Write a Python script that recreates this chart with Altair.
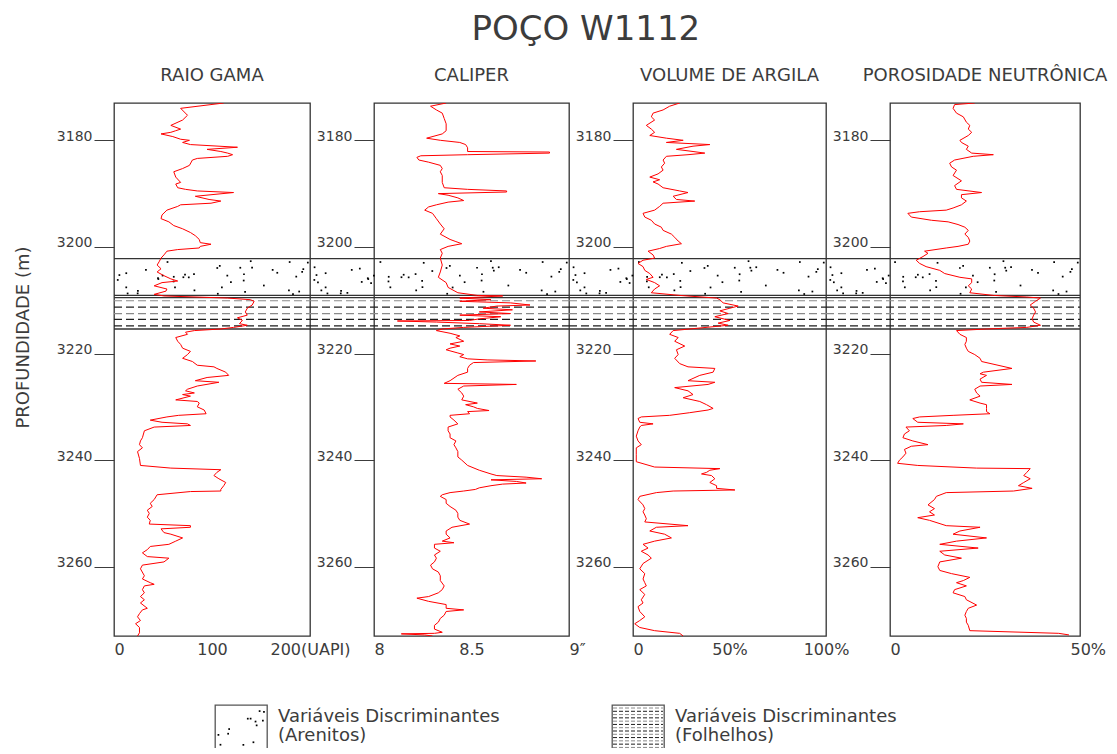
import altair as alt
import pandas as pd

FONT = "DejaVu Sans"
INK = "#3c3c3c"

# ---------------- data (depth in m, log value) ----------------
DEPTH_DOMAIN = [3173, 3273]
DEPTH_TICKS = [3180, 3200, 3220, 3240, 3260]

# interval limits
BAND_EDGES = [3202.2, 3209.1, 3209.5, 3215.4]
SAND_RANGE = [3202.4, 3208.9]
SHALE_LINES = [3210.1, 3211.3, 3212.5, 3213.6, 3214.8]
SHALE_TONES = ["light", "dark", "light", "dark", "dark"]

RAIO_GAMA = [
    (3173.0, 112), (3174.0, 68), (3175.3, 75), (3176.2, 70), (3177.2, 58), (3177.9, 68), (3178.2, 63),
    (3178.5, 58), (3178.8, 48), (3179.3, 60), (3179.8, 68), (3180.0, 77), (3180.4, 70), (3180.8, 78),
    (3181.3, 126), (3181.7, 95), (3182.1, 109), (3182.4, 116), (3182.7, 121), (3183.0, 116), (3183.4, 85),
    (3183.7, 80), (3184.7, 77), (3185.3, 70), (3185.9, 61), (3186.9, 63), (3187.9, 68), (3188.2, 63),
    (3188.9, 65), (3189.2, 73), (3189.5, 85), (3189.8, 122), (3190.5, 83), (3191.1, 97), (3191.4, 109),
    (3191.8, 99), (3192.1, 68), (3192.4, 65), (3193.1, 54), (3194.0, 49), (3194.7, 48), (3195.3, 56),
    (3196.0, 61), (3196.6, 70), (3197.3, 78), (3197.9, 83), (3198.6, 87), (3199.2, 88), (3199.5, 99),
    (3199.9, 88), (3200.2, 87), (3200.5, 65), (3200.8, 54), (3201.5, 51), (3202.1, 48), (3202.8, 46),
    (3203.4, 44), (3204.1, 48), (3204.7, 44), (3205.4, 51), (3206.0, 58), (3206.4, 65), (3206.7, 49),
    (3207.3, 41), (3207.9, 54), (3208.3, 53), (3208.9, 41), (3209.2, 51), (3209.6, 116), (3209.9, 139),
    (3210.2, 143), (3210.9, 141), (3211.5, 136), (3212.2, 134), (3212.8, 136), (3213.3, 126), (3213.8, 131),
    (3214.4, 128), (3214.7, 136), (3215.1, 122), (3215.4, 109), (3215.7, 82), (3216.0, 73), (3216.4, 75),
    (3217.0, 63), (3217.7, 65), (3218.3, 68), (3219.0, 70), (3219.6, 78), (3220.2, 75), (3220.9, 70),
    (3221.5, 80), (3222.2, 85), (3222.5, 102), (3222.8, 105), (3223.5, 114), (3224.1, 117), (3224.5, 95),
    (3225.1, 83), (3225.4, 107), (3226.1, 85), (3226.7, 75), (3227.0, 73), (3227.4, 82), (3227.7, 70),
    (3228.0, 78), (3228.7, 63), (3229.0, 85), (3229.3, 87), (3230.0, 85), (3230.6, 92), (3231.3, 94),
    (3231.6, 66), (3231.9, 54), (3232.5, 37), (3232.9, 49), (3233.2, 75), (3233.5, 78), (3233.8, 41),
    (3234.5, 31), (3235.8, 29), (3236.4, 27), (3237.1, 26), (3237.7, 29), (3238.4, 24), (3239.7, 26),
    (3241.0, 27), (3241.5, 58), (3241.8, 109), (3242.3, 105), (3242.9, 102), (3243.5, 107), (3244.2, 114),
    (3244.8, 112), (3245.5, 109), (3245.8, 109), (3245.9, 78), (3246.5, 44), (3247.4, 41), (3248.1, 37),
    (3248.7, 39), (3249.4, 34), (3250.0, 36), (3250.7, 34), (3251.3, 37), (3252.0, 36), (3252.3, 78),
    (3252.6, 78), (3252.9, 48), (3253.6, 51), (3253.9, 58), (3254.6, 70), (3255.2, 63), (3255.8, 56),
    (3256.2, 37), (3256.8, 34), (3257.4, 29), (3258.1, 34), (3258.4, 56), (3259.1, 51), (3259.7, 29),
    (3260.4, 27), (3261.7, 31), (3262.3, 29), (3263.0, 37), (3263.3, 41), (3263.6, 31), (3264.3, 29),
    (3264.9, 31), (3265.6, 27), (3266.2, 31), (3266.8, 27), (3267.8, 34), (3268.1, 29), (3268.8, 26),
    (3269.4, 24), (3270.1, 27), (3270.7, 22), (3271.4, 26), (3272.4, 26), (3273.0, 24),
]

CALIPER = [
    (3173.0, 8.37), (3173.6, 8.29), (3174.3, 8.32), (3174.9, 8.35), (3175.9, 8.36), (3176.9, 8.37),
    (3178.2, 8.37), (3178.8, 8.35), (3179.6, 8.27), (3180.0, 8.34), (3180.4, 8.44), (3180.8, 8.47),
    (3181.4, 8.48), (3182.1, 8.48), (3182.2, 8.90), (3182.4, 8.90), (3182.7, 8.48), (3182.9, 8.24),
    (3183.2, 8.22), (3183.7, 8.23), (3184.1, 8.28), (3184.7, 8.34), (3185.3, 8.35), (3185.9, 8.34),
    (3186.6, 8.35), (3187.9, 8.35), (3188.9, 8.36), (3189.2, 8.48), (3189.5, 8.68), (3189.7, 8.68),
    (3190.0, 8.33), (3190.3, 8.38), (3190.8, 8.43), (3191.3, 8.46), (3191.6, 8.38), (3192.1, 8.32),
    (3192.5, 8.28), (3193.1, 8.26), (3193.7, 8.30), (3194.7, 8.32), (3195.7, 8.34), (3196.6, 8.36),
    (3197.6, 8.34), (3198.6, 8.39), (3199.0, 8.42), (3199.4, 8.45), (3199.9, 8.38), (3200.5, 8.34),
    (3201.2, 8.35), (3202.1, 8.34), (3203.4, 8.35), (3204.7, 8.34), (3205.7, 8.33), (3206.7, 8.37),
    (3207.6, 8.38), (3208.6, 8.43), (3209.1, 8.53), (3209.2, 8.66), (3209.6, 8.44), (3209.9, 8.60),
    (3210.2, 8.44), (3210.5, 8.70), (3210.9, 8.80), (3211.1, 8.63), (3211.5, 8.56), (3211.8, 8.71),
    (3212.2, 8.54), (3212.5, 8.70), (3212.8, 8.44), (3213.1, 8.65), (3213.5, 8.54), (3213.8, 8.49),
    (3213.9, 8.12), (3214.1, 8.32), (3214.4, 8.54), (3214.7, 8.70), (3215.1, 8.46), (3215.4, 8.35),
    (3215.7, 8.32), (3216.2, 8.39), (3216.7, 8.44), (3217.0, 8.42), (3217.7, 8.46), (3218.2, 8.39),
    (3218.6, 8.44), (3219.0, 8.39), (3219.3, 8.37), (3219.9, 8.43), (3220.2, 8.46), (3220.6, 8.44),
    (3221.0, 8.48), (3221.2, 8.58), (3221.4, 8.83), (3221.7, 8.51), (3222.2, 8.49), (3222.8, 8.48),
    (3223.5, 8.48), (3224.1, 8.43), (3225.1, 8.39), (3225.6, 8.36), (3225.8, 8.73), (3226.1, 8.46),
    (3226.7, 8.43), (3227.4, 8.45), (3228.0, 8.46), (3228.7, 8.45), (3229.3, 8.53), (3229.6, 8.47),
    (3230.0, 8.51), (3230.3, 8.53), (3230.7, 8.59), (3230.9, 8.48), (3231.3, 8.49), (3231.6, 8.39),
    (3231.9, 8.39), (3232.5, 8.41), (3233.2, 8.43), (3233.8, 8.38), (3234.5, 8.38), (3235.1, 8.39),
    (3235.8, 8.39), (3236.4, 8.42), (3237.1, 8.41), (3237.7, 8.42), (3238.4, 8.43), (3239.4, 8.43),
    (3240.0, 8.45), (3241.0, 8.48), (3241.9, 8.54), (3242.6, 8.60), (3242.9, 8.63), (3243.2, 8.78),
    (3243.5, 8.86), (3243.7, 8.60), (3244.0, 8.73), (3244.3, 8.78), (3244.5, 8.66), (3244.8, 8.60),
    (3245.2, 8.54), (3245.5, 8.52), (3245.8, 8.46), (3246.1, 8.39), (3246.5, 8.35), (3246.8, 8.34),
    (3247.4, 8.37), (3248.1, 8.37), (3248.7, 8.39), (3249.4, 8.42), (3250.0, 8.43), (3250.7, 8.43),
    (3251.3, 8.44), (3252.0, 8.49), (3252.6, 8.40), (3253.3, 8.37), (3253.9, 8.37), (3254.6, 8.39),
    (3255.2, 8.35), (3255.5, 8.41), (3255.8, 8.31), (3256.5, 8.31), (3257.1, 8.34), (3257.8, 8.31),
    (3258.4, 8.32), (3259.1, 8.31), (3259.7, 8.29), (3260.4, 8.30), (3261.0, 8.33), (3261.7, 8.34),
    (3262.6, 8.34), (3263.6, 8.36), (3264.3, 8.35), (3264.9, 8.33), (3265.6, 8.28), (3265.9, 8.22),
    (3266.5, 8.28), (3267.1, 8.37), (3267.8, 8.37), (3268.1, 8.46), (3268.4, 8.37), (3269.1, 8.36),
    (3269.7, 8.34), (3270.4, 8.33), (3271.0, 8.31), (3271.7, 8.31), (3272.3, 8.35), (3272.5, 8.31),
    (3272.6, 8.14), (3272.8, 8.26), (3273.0, 8.30),
]

VOLUME_ARGILA = [
    (3173.0, 24.2), (3173.6, 19.0), (3174.3, 15.6), (3174.9, 10.4), (3175.6, 9.5), (3176.2, 11.2),
    (3177.2, 6.9), (3177.9, 9.5), (3178.5, 11.2), (3179.1, 8.7), (3179.6, 17.3), (3180.0, 26.0),
    (3180.4, 17.3), (3180.8, 39.8), (3181.1, 31.1), (3181.7, 22.5), (3182.1, 31.1), (3182.4, 37.2),
    (3182.7, 28.5), (3183.0, 17.3), (3183.7, 15.6), (3184.3, 16.4), (3185.0, 14.7), (3185.6, 15.6),
    (3186.3, 13.0), (3186.9, 8.7), (3187.4, 13.8), (3187.8, 10.4), (3188.2, 13.0), (3188.9, 15.6),
    (3189.5, 24.2), (3189.8, 28.5), (3190.5, 20.8), (3191.1, 22.5), (3191.4, 32.0), (3191.8, 15.6),
    (3192.4, 13.8), (3193.1, 11.2), (3193.7, 5.2), (3194.4, 6.1), (3195.0, 9.5), (3195.7, 11.2),
    (3196.3, 14.7), (3196.9, 15.6), (3197.6, 19.9), (3198.2, 21.6), (3198.9, 23.4), (3199.4, 25.1),
    (3199.9, 17.3), (3200.3, 13.8), (3200.8, 7.8), (3201.5, 10.4), (3202.1, 11.2), (3202.5, 5.2),
    (3203.1, 2.6), (3203.7, 5.2), (3204.4, 6.1), (3205.0, 8.7), (3205.7, 10.4), (3206.1, 6.9),
    (3206.7, 11.2), (3207.3, 13.8), (3207.9, 11.2), (3208.6, 9.5), (3209.1, 24.2), (3209.6, 43.3),
    (3209.9, 45.0), (3210.5, 46.7), (3211.1, 54.5), (3211.5, 50.2), (3212.0, 45.0), (3212.5, 49.3),
    (3213.1, 42.4), (3213.8, 50.2), (3214.3, 44.1), (3214.7, 49.3), (3215.4, 29.4), (3215.7, 20.8),
    (3216.4, 19.0), (3217.0, 23.4), (3217.7, 21.6), (3218.6, 26.8), (3219.3, 22.5), (3220.2, 23.4),
    (3220.9, 21.6), (3221.9, 24.2), (3222.5, 28.5), (3222.8, 42.4), (3223.5, 41.5), (3224.1, 34.6),
    (3225.1, 28.5), (3225.4, 42.4), (3225.8, 38.9), (3226.4, 21.6), (3227.0, 28.5), (3227.7, 31.1),
    (3228.3, 26.0), (3229.0, 34.6), (3229.6, 38.1), (3230.3, 41.5), (3230.6, 38.9), (3231.1, 29.4),
    (3231.6, 19.0), (3231.9, 4.3), (3232.2, 2.6), (3232.9, 3.5), (3233.2, 10.4), (3233.5, 4.3),
    (3233.8, 3.5), (3234.5, 2.6), (3235.5, 1.7), (3236.4, 2.6), (3237.1, 4.3), (3237.7, 1.7),
    (3239.0, 1.7), (3240.3, 1.7), (3241.3, 11.2), (3241.6, 45.0), (3241.9, 39.8), (3242.3, 38.1),
    (3242.6, 35.5), (3242.9, 40.7), (3243.5, 42.4), (3244.2, 39.8), (3244.8, 43.3), (3245.3, 43.3),
    (3245.6, 52.8), (3245.8, 20.8), (3246.1, 12.1), (3246.8, 3.5), (3247.4, 2.6), (3248.4, 5.2),
    (3249.1, 6.1), (3249.7, 5.2), (3250.3, 6.1), (3251.0, 6.9), (3251.6, 6.1), (3252.3, 28.5),
    (3252.6, 12.1), (3253.3, 8.7), (3253.9, 16.4), (3254.6, 19.9), (3255.2, 11.2), (3255.8, 5.2),
    (3256.5, 7.8), (3257.1, 4.3), (3257.8, 7.8), (3258.4, 9.5), (3259.4, 5.2), (3260.4, 3.5),
    (3261.3, 6.1), (3262.3, 5.2), (3263.0, 6.1), (3263.6, 6.9), (3264.3, 3.5), (3265.2, 6.1),
    (3266.2, 4.3), (3266.8, 5.2), (3267.5, 2.6), (3268.4, 3.5), (3269.4, 6.1), (3270.1, 3.5),
    (3270.7, 0.9), (3271.4, 3.5), (3272.0, 11.2), (3272.5, 24.2), (3273.0, 26.0),
]

POROSIDADE = [
    (3173.0, 22.3), (3173.3, 17.0), (3174.0, 16.6), (3174.9, 17.5), (3175.6, 19.3), (3176.6, 20.1),
    (3177.2, 21.0), (3177.9, 20.6), (3178.5, 21.5), (3179.1, 20.6), (3180.0, 18.4), (3180.4, 18.8),
    (3181.1, 20.6), (3181.7, 20.1), (3182.4, 21.5), (3182.7, 27.2), (3183.0, 21.9), (3183.7, 17.0),
    (3184.3, 15.7), (3185.0, 16.2), (3185.6, 17.5), (3186.6, 16.6), (3187.6, 18.8), (3188.5, 17.0),
    (3189.2, 17.5), (3189.8, 24.1), (3190.2, 18.8), (3190.8, 18.8), (3191.4, 20.1), (3192.1, 18.8),
    (3192.7, 16.6), (3193.1, 14.8), (3193.4, 7.8), (3193.7, 4.7), (3194.4, 5.6), (3195.0, 10.9),
    (3195.3, 15.3), (3195.8, 17.9), (3196.3, 19.7), (3196.9, 20.6), (3197.6, 19.7), (3198.2, 20.6),
    (3198.9, 21.0), (3199.5, 20.6), (3199.9, 17.9), (3200.2, 14.8), (3200.8, 9.1), (3201.2, 10.0),
    (3201.8, 8.7), (3202.5, 6.9), (3203.1, 7.8), (3203.7, 9.5), (3204.4, 13.1), (3205.0, 14.4),
    (3205.7, 18.4), (3206.0, 21.5), (3206.7, 21.5), (3207.3, 20.6), (3207.9, 21.5), (3208.6, 21.0),
    (3209.1, 27.2), (3209.4, 36.0), (3209.6, 39.6), (3210.2, 38.3), (3210.9, 36.9), (3211.5, 37.8),
    (3212.2, 38.3), (3212.8, 37.8), (3213.5, 37.4), (3214.1, 37.8), (3214.7, 39.6), (3215.1, 36.0),
    (3215.4, 25.4), (3215.7, 17.5), (3216.4, 18.4), (3217.0, 20.1), (3217.7, 20.1), (3218.3, 19.7),
    (3219.0, 20.1), (3219.6, 20.6), (3220.2, 22.3), (3220.9, 23.7), (3221.5, 24.1), (3222.8, 32.1),
    (3223.5, 24.6), (3223.8, 23.7), (3224.1, 25.4), (3224.8, 23.7), (3225.4, 24.1), (3225.8, 32.1),
    (3226.1, 23.7), (3226.7, 22.3), (3227.4, 22.8), (3228.0, 23.7), (3228.7, 21.0), (3229.3, 23.7),
    (3229.6, 25.4), (3230.3, 25.4), (3230.9, 25.4), (3231.3, 26.3), (3231.6, 16.6), (3231.9, 7.8),
    (3232.2, 6.0), (3232.9, 7.3), (3233.2, 19.3), (3233.5, 14.8), (3233.8, 4.2), (3234.5, 5.1),
    (3235.1, 3.8), (3235.8, 3.4), (3236.4, 6.0), (3237.1, 10.0), (3237.4, 5.6), (3238.0, 3.8),
    (3238.7, 4.2), (3239.4, 3.4), (3240.0, 2.5), (3240.6, 2.0), (3241.0, 7.3), (3241.5, 22.8),
    (3241.6, 36.9), (3242.3, 36.0), (3242.9, 35.2), (3243.5, 36.9), (3244.2, 35.2), (3244.8, 33.8),
    (3245.3, 37.4), (3245.8, 32.5), (3246.1, 14.8), (3246.8, 12.2), (3247.4, 11.7), (3248.4, 10.0),
    (3249.1, 11.7), (3249.7, 10.4), (3250.3, 11.7), (3250.8, 7.3), (3251.3, 10.4), (3252.3, 14.8),
    (3252.6, 23.7), (3253.3, 18.4), (3253.9, 16.6), (3254.6, 25.4), (3255.2, 17.5), (3255.8, 13.1),
    (3256.5, 23.2), (3257.1, 13.1), (3257.8, 14.4), (3258.4, 18.8), (3259.1, 13.1), (3260.0, 12.6),
    (3260.7, 13.1), (3261.3, 16.2), (3262.0, 21.0), (3262.6, 19.3), (3263.0, 17.5), (3263.6, 20.1),
    (3264.3, 17.0), (3264.9, 16.6), (3265.6, 19.7), (3266.2, 20.1), (3267.2, 22.8), (3267.8, 20.6),
    (3268.4, 20.1), (3269.1, 19.7), (3269.7, 20.1), (3270.4, 20.1), (3271.0, 20.6), (3272.0, 21.0),
    (3272.5, 44.4), (3272.8, 47.1),
]

TITLE = "POÇO W1112"
PANEL_TITLES = ["RAIO GAMA", "CALIPER", "VOLUME DE ARGILA", "POROSIDADE NEUTRÔNICA"]
Y_TITLE = "PROFUNDIDADE (m)"
LEGEND_HEAD = "Variáveis Discriminantes"
LEGEND_CLASSES = ["(Arenitos)", "(Folhelhos)"]

PANEL_W = [196, 195, 193, 190]
PANEL_H = 533
GAP = 64

TONE_SCALE = alt.Scale(domain=["light", "dark"], range=["#8a8a8a", "#1e1e1e"])

# texture helpers (decorative stipple, not data)
HASH_U = "abs(sin(datum.i * 12.9898 + 1.3) * 43758.5453) % 1"
HASH_V = "abs(sin(datum.i * 78.233 + 0.7) * 24634.6345) % 1"


def y_enc(first):
    return alt.Y(
        "depth:Q",
        scale=alt.Scale(domain=DEPTH_DOMAIN, reverse=True, nice=False, zero=False),
        axis=alt.Axis(
            values=DEPTH_TICKS, format="d", tickSize=20, tickColor=INK, tickWidth=1,
            domain=False, grid=False, labelFontSize=14, labelColor=INK, labelFont=FONT,
            labelPadding=2, labelBaseline="alphabetic",
            title=(Y_TITLE if first else None), titleFontSize=18, titleFontWeight="normal",
            titleColor=INK, titleFont=FONT, titlePadding=24, titleY=234,
        ),
    )


def panel(title, pairs, dom, vals, lexpr, lalign, loffset, width, gap, first):
    df = pd.DataFrame(pairs, columns=["depth", "value"])
    df["idx"] = range(len(df))
    y = y_enc(first)

    edges = alt.Chart(pd.DataFrame({"depth": BAND_EDGES})).mark_rule(
        color="#333333", strokeWidth=1.3
    ).encode(x=alt.value(-gap), x2=alt.value(width), y=y)

    dashes = alt.Chart(pd.DataFrame({"depth": SHALE_LINES, "tone": SHALE_TONES})).mark_rule(
        strokeDash=[8, 4], strokeWidth=1.2
    ).encode(
        x=alt.value(-gap), x2=alt.value(width), y=y,
        color=alt.Color("tone:N", scale=TONE_SCALE, legend=None),
    )

    n = int((width + gap) * 0.22)
    dots = alt.Chart(alt.sequence(0, n, as_="i")).transform_calculate(
        u=HASH_U, v=HASH_V,
    ).transform_calculate(
        depth=f"{SAND_RANGE[0]} + datum.v * {SAND_RANGE[1] - SAND_RANGE[0]}"
    ).mark_square(size=3, color="#000000", opacity=1).encode(
        x=alt.X("u:Q", scale=alt.Scale(domain=[0, 1], range=[-gap + 2, width - 2]), axis=None),
        y=y,
    )

    line = alt.Chart(df).mark_line(color="#ff0000", strokeWidth=1, clip=True).encode(
        x=alt.X(
            "value:Q",
            scale=alt.Scale(domain=dom, nice=False, zero=False),
            axis=alt.Axis(
                values=vals, labelExpr=lexpr, labelAlign=lalign, labelOffset=loffset,
                ticks=False, domain=False,
                grid=False, labelPadding=5, labelFontSize=16, labelColor=INK, labelFont=FONT,
                title=None, labelFlush=False, labelOverlap=False, labelBound=False,
            ),
        ),
        y=y,
        order="idx:Q",
    )

    return alt.layer(edges, dashes, dots, line).resolve_scale(x="independent").properties(
        width=width, height=PANEL_H,
        title=alt.TitleParams(title, fontSize=18, font=FONT, fontWeight="normal",
                              color=INK, offset=18, anchor="middle"),
    )


def cond(test, yes, no):
    return {"condition": {"test": test, "value": yes}, "value": no}


p1 = panel(PANEL_TITLES[0], RAIO_GAMA, [0, 200], [0, 100, 200],
           "datum.value == 200 ? '200(UAPI)' : datum.label",
           cond("datum.value == 0", "left", "center"), 0, PANEL_W[0], 0, True)
p2 = panel(PANEL_TITLES[1], CALIPER, [8, 9], [8, 8.5, 9],
           "datum.value == 9 ? '9″' : (datum.value == 8 ? '8' : '8.5')",
           cond("datum.value == 8.5", "center", "left"), 0, PANEL_W[1], GAP, False)
p3 = panel(PANEL_TITLES[2], VOLUME_ARGILA, [0, 100], [0, 50, 100],
           "datum.value == 0 ? '0' : datum.value + '%'",
           cond("datum.value == 0", "left", "center"), 0, PANEL_W[2], GAP, False)
p4 = panel(PANEL_TITLES[3], POROSIDADE, [0, 50], [0, 50],
           "datum.value == 0 ? '0' : datum.value + '%'",
           "left", cond("datum.value == 50", -10, 0), PANEL_W[3], GAP, False)

top = alt.hconcat(p1, p2, p3, p4, spacing=GAP, bounds="flush").resolve_scale(
    x="independent", color="independent"
)

# ---------------- legend ----------------
BOX_W, BOX_H = 52, 52
spacer = alt.Chart(pd.DataFrame({"t": [""]})).mark_text().encode(text="t:N").properties(
    width=90, height=BOX_H, view=alt.ViewBackground(strokeOpacity=0)
)

box_sand = alt.Chart(alt.sequence(0, 16, as_="i")).transform_calculate(
    u=HASH_U, v=HASH_V,
).mark_square(size=3, color="#000000", opacity=1).encode(
    x=alt.X("u:Q", scale=alt.Scale(domain=[0, 1], range=[3, BOX_W - 3]), axis=None),
    y=alt.Y("v:Q", scale=alt.Scale(domain=[0, 1], range=[3, BOX_H - 3]), axis=None),
).properties(width=BOX_W, height=BOX_H, view=alt.ViewBackground(stroke="#555555", strokeWidth=1.3))

box_shale = alt.Chart(alt.sequence(0, 15, as_="i")).transform_calculate(
    tone="datum.i % 2 ? 'dark' : 'light'"
).mark_rule(strokeDash=[4, 2], strokeWidth=1).encode(
    x=alt.value(1), x2=alt.value(BOX_W - 1),
    y=alt.Y("i:Q", scale=alt.Scale(domain=[0, 14], range=[3, BOX_H - 3]), axis=None),
    color=alt.Color("tone:N", scale=TONE_SCALE, legend=None),
).properties(width=BOX_W, height=BOX_H, view=alt.ViewBackground(stroke="#555555", strokeWidth=1.3))


def legend_text(cls, width):
    df = pd.DataFrame({"t": [LEGEND_HEAD, cls], "row": [0, 1]})
    return alt.Chart(df).mark_text(
        align="left", baseline="middle", fontSize=18, font=FONT, color=INK
    ).encode(
        text="t:N", x=alt.value(0),
        y=alt.Y("row:Q", scale=alt.Scale(domain=[0, 1], range=[12, 31]), axis=None),
    ).properties(width=width, height=BOX_H, view=alt.ViewBackground(strokeOpacity=0))


legend = alt.hconcat(
    spacer, box_sand, legend_text(LEGEND_CLASSES[0], 323), box_shale,
    legend_text(LEGEND_CLASSES[1], 280), spacing=10,
).resolve_scale(x="independent", y="independent", color="independent")

chart = alt.vconcat(top, legend, spacing=46).properties(
    title=alt.TitleParams(TITLE, fontSize=34, font=FONT, fontWeight="normal", color=INK,
                          anchor="middle", dx=25, offset=19),
    padding={"left": 5, "top": 5, "right": 0, "bottom": -10},
).configure_view(stroke="#333333", strokeWidth=1.3)

chart.save("out.html", embed_options={"renderer": "svg", "actions": False})
